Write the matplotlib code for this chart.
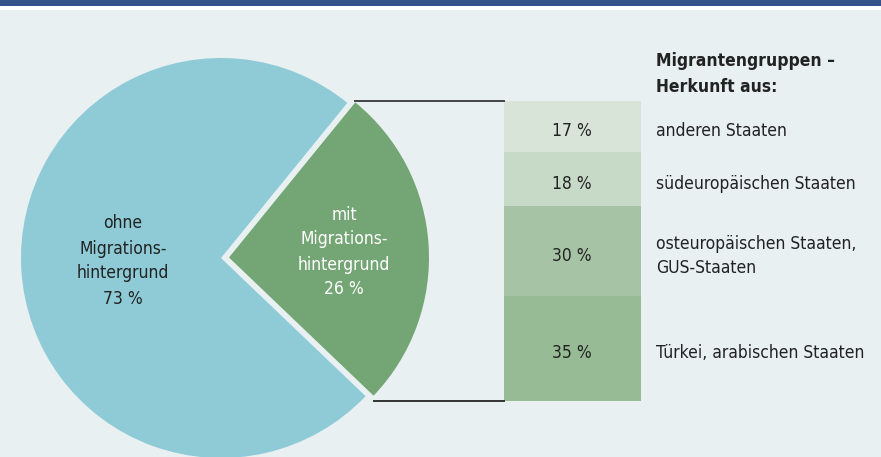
import math
import matplotlib
matplotlib.use("Agg")
import matplotlib.pyplot as plt
from matplotlib import font_manager

# schmale Schrift suchen, sonst Roboto
narrow = None
for f in font_manager.fontManager.ttflist:
    if "Narrow" in f.name or "Condensed" in f.name or f.stretch in ("condensed", "semi-condensed"):
        narrow = f
        break
if narrow is not None:
    plt.rcParams['font.family'] = [narrow.name, 'DejaVu Sans']
    plt.rcParams['font.stretch'] = narrow.stretch
    fs = 12.5
else:
    plt.rcParams['font.family'] = ['Roboto', 'DejaVu Sans']
    fs = 12

# Daten
pie_labels = ["mit\nMigrations-\nhintergrund\n26 %", "ohne\nMigrations-\nhintergrund\n73 %"]
pie_values = [26, 73]
group_labels = ["Türkei, arabischen Staaten", "osteuropäischen Staaten,\nGUS-Staaten",
                "südeuropäischen Staaten", "anderen Staaten"]
group_values = [35, 30, 18, 17]

bg = "#e8f0f2"
pie_colors = ["#74a574", "#8ecbd6"]
bar_colors = ["#96bb95", "#a6c4a5", "#c7dac7", "#d9e4d9"]

W, H = 881, 457
fig = plt.figure(figsize=(W / 100, H / 100), dpi=100)
fig.patch.set_facecolor(bg)
ax = fig.add_axes([0, 0, 1, 1])
ax.set_facecolor(bg)

# Kopfleiste
ax.axhspan(H - 6, H, color="#34528a", lw=0)
ax.axhspan(H - 10, H - 6, color="white", lw=0)

# Kreis
cx, cy, r = 221, 199, 200
wedges, _ = ax.pie(pie_values, colors=pie_colors, startangle=-43.7,
                   center=(cx, cy), radius=r, frame=True,
                   wedgeprops=dict(linewidth=0))
g = wedges[0]
mid = math.radians((g.theta1 + g.theta2) / 2)
g.set_center((cx + 8 * math.cos(mid), cy + 8 * math.sin(mid)))
gx, gy = g.center

ax.text(123, H - 261, pie_labels[1], ha="center", va="center", fontsize=fs,
        color="#222222", linespacing=1.5)
ax.text(344, H - 252, pie_labels[0], ha="center", va="center", fontsize=fs,
        color="white", linespacing=1.5)

# Gestapelte Balken
bar_x, bar_w = 572, 137
scale = 3
bottom = 56
for v, c, lab in zip(group_values, bar_colors, group_labels):
    ax.bar(bar_x, v * scale, width=bar_w, bottom=bottom, color=c, lw=0)
    mid_y = bottom + v * scale / 2 - 5
    ax.text(bar_x, mid_y, f"{v} %", ha="center", va="center", fontsize=fs, color="#222222")
    ax.text(656, mid_y, lab, ha="left", va="center", fontsize=fs, color="#222222",
            linespacing=1.45)
    bottom += v * scale
top = bottom

# Verbindungslinien
t1, t2 = math.radians(g.theta1), math.radians(g.theta2)
x_top = gx + r * math.cos(t2)
x_bot = gx + r * math.cos(t1)
ax.plot([x_top, bar_x - bar_w / 2], [top, top], color="#444444", lw=1.4)
ax.plot([x_bot, bar_x - bar_w / 2], [56, 56], color="#333333", lw=1.4)

ax.text(656, H - 74, "Migrantengruppen –\nHerkunft aus:", ha="left", va="center",
        fontsize=fs, fontweight="bold", color="#222222", linespacing=1.5)

ax.set_xlim(0, W)
ax.set_ylim(0, H)
ax.set_aspect("auto")
ax.axis("off")

fig.savefig("out.png", dpi=100, facecolor=bg)
